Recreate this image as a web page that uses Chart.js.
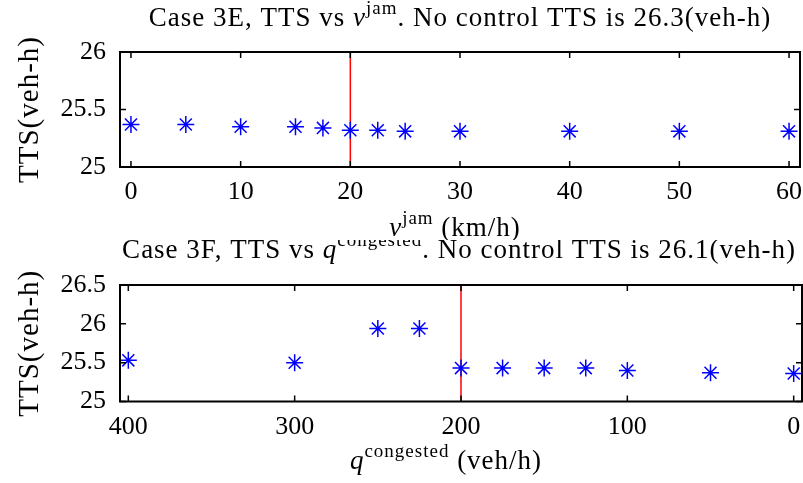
<!DOCTYPE html>
<html>
<head>
<meta charset="utf-8">
<script src="https://cdn.jsdelivr.net/npm/chart.js@4/dist/chart.umd.min.js"></script>
<style>
  body { margin: 0; background: #fff; }
  #wrap { position: relative; width: 803px; height: 483px; }
  #topBox { position: absolute; left: 0; top: 0; width: 803px; height: 240px; }
  #botBox { position: absolute; left: 0; top: 240px; width: 803px; height: 243px; }
</style>
</head>
<body>
<div id="wrap">
  <div id="topBox"><canvas id="chartE" width="803" height="240"></canvas></div>
  <div id="botBox"><canvas id="chartF" width="803" height="243"></canvas></div>
</div>
<script>
// Case 3E: TTS vs v_jam
const vJam = [0, 5, 10, 15, 17.5, 20, 22.5, 25, 30, 40, 50, 60];
const ttsE = [25.37, 25.37, 25.35, 25.35, 25.34, 25.32, 25.32, 25.31, 25.31, 25.31, 25.31, 25.31];
const vJamTicks = [0, 10, 20, 30, 40, 50, 60];
const ttsETicks = [25, 25.5, 26];
const vJamChosen = 20;

// Case 3F: TTS vs q_congested
const qCong = [400, 300, 250, 225, 200, 175, 150, 125, 100, 50, 0];
const ttsF = [25.53, 25.50, 25.94, 25.94, 25.43, 25.43, 25.43, 25.43, 25.40, 25.37, 25.36];
const qTicks = [400, 300, 200, 100, 0];
const ttsFTicks = [25, 25.5, 26, 26.5];
const qChosen = 200;

const FONT = 'Liberation Serif';
Chart.defaults.font.family = FONT;
Chart.defaults.font.size = 26;
Chart.defaults.color = '#000';

// draw text made of pieces (plain / italic / superscript)
function drawRich(ctx, parts, cx, baseline, size) {
  const fontOf = p => (p.italic ? 'italic ' : '') + (p.sup ? Math.round(size * 0.7) : size) + 'px "' + FONT + '"';
  let total = 0;
  ctx.letterSpacing = '1px';
  parts.forEach(p => { ctx.font = fontOf(p); p.w = ctx.measureText(p.text).width; total += p.w; });
  let x = cx - total / 2;
  ctx.textAlign = 'left';
  ctx.textBaseline = 'alphabetic';
  parts.forEach(p => {
    ctx.font = fontOf(p);
    ctx.fillText(p.text, x, baseline - (p.sup ? size * 0.45 : 0));
    x += p.w;
  });
  ctx.letterSpacing = '0px';
}

// frame, inward ticks on all four sides, titles
const framePlugin = {
  id: 'frame',
  afterDatasetsDraw(chart, args, opts) {
    const { ctx, chartArea: a } = chart;
    const xs = chart.scales.x, ys = chart.scales.y;
    ctx.save();
    ctx.strokeStyle = '#000';
    ctx.lineWidth = 1.5;
    ctx.beginPath();
    xs.ticks.forEach(t => {
      const px = xs.getPixelForValue(t.value);
      ctx.moveTo(px, a.bottom); ctx.lineTo(px, a.bottom - 6);
      ctx.moveTo(px, a.top); ctx.lineTo(px, a.top + 6);
    });
    ys.ticks.forEach(t => {
      const py = ys.getPixelForValue(t.value);
      ctx.moveTo(a.left, py); ctx.lineTo(a.left + 6, py);
      ctx.moveTo(a.right, py); ctx.lineTo(a.right - 6, py);
    });
    ctx.stroke();
    ctx.lineWidth = 2;
    ctx.strokeRect(a.left, a.top, a.right - a.left, a.bottom - a.top);

    ctx.fillStyle = '#000';
    drawRich(ctx, opts.title, opts.titleX, opts.titleY, 27);
    drawRich(ctx, opts.xTitle, opts.xTitleX, opts.xTitleY, 27);
    ctx.translate(30, (a.top + a.bottom) / 2);
    ctx.rotate(-Math.PI / 2);
    ctx.font = '29px "' + FONT + '"';
    ctx.letterSpacing = '1px';
    ctx.textAlign = 'center';
    ctx.textBaseline = 'middle';
    ctx.fillText('TTS(veh-h)', 0, 0);
    ctx.restore();
  }
};

function makeChart(id, xs, ys, xTicks, yTicks, chosen, xMin, xMax, reverse, pad, xHeight, frame) {
  return new Chart(document.getElementById(id), {
    type: 'scatter',
    data: {
      datasets: [{
        data: xs.map((x, i) => ({ x: x, y: ys[i] })),
        pointStyle: 'star',
        pointRadius: 8.5,
        pointBorderWidth: 1.5,
        borderColor: '#0000ff',
        backgroundColor: '#0000ff',
        clip: false
      }, {
        type: 'line',
        data: [{ x: chosen, y: yTicks[0] }, { x: chosen, y: yTicks[yTicks.length - 1] }],
        borderColor: '#ff0000',
        borderWidth: 1.5,
        pointRadius: 0
      }]
    },
    options: {
      responsive: false,
      animation: false,
      events: [],
      layout: { padding: pad, autoPadding: false },
      plugins: { legend: { display: false }, tooltip: { enabled: false }, frame: frame },
      scales: {
        x: {
          type: 'linear', min: xMin, max: xMax, reverse: reverse,
          afterBuildTicks: s => { s.ticks = xTicks.map(v => ({ value: v })); },
          afterFit: s => { s.height = xHeight; s.paddingLeft = 0; s.paddingRight = 0; },
          grid: { display: false }, border: { display: false },
          ticks: { padding: 2, maxRotation: 0, autoSkip: false, callback: v => String(v) }
        },
        y: {
          type: 'linear', min: yTicks[0], max: yTicks[yTicks.length - 1],
          afterBuildTicks: s => { s.ticks = yTicks.map(v => ({ value: v })); },
          afterFit: s => { s.width = 120; s.paddingTop = 0; s.paddingBottom = 0; },
          grid: { display: false }, border: { display: false },
          ticks: { padding: 6, callback: v => String(v) }
        }
      }
    },
    plugins: [framePlugin]
  });
}

makeChart('chartE', vJam, ttsE, vJamTicks, ttsETicks, vJamChosen, -1, 61, false,
  { top: 52, right: 3, left: 0, bottom: 0 }, 73, {
    title: [{ text: 'Case 3E, TTS vs ' }, { text: 'v', italic: true }, { text: 'jam', sup: true },
            { text: '. No control TTS is 26.3(veh-h)' }],
    titleX: 460, titleY: 26,
    xTitle: [{ text: 'v', italic: true }, { text: 'jam', sup: true }, { text: ' (km/h)' }],
    xTitleX: 455, xTitleY: 236
  });

makeChart('chartF', qCong, ttsF, qTicks, ttsFTicks, qChosen, -5, 405, true,
  { top: 45, right: 1, left: 0, bottom: 0 }, 81.5, {
    title: [{ text: 'Case 3F, TTS vs ' }, { text: 'q', italic: true }, { text: 'congested', sup: true },
            { text: '. No control TTS is 26.1(veh-h)' }],
    titleX: 459, titleY: 18,
    xTitle: [{ text: 'q', italic: true }, { text: 'congested', sup: true }, { text: ' (veh/h)' }],
    xTitleX: 446, xTitleY: 229
  });
</script>
</body>
</html>
